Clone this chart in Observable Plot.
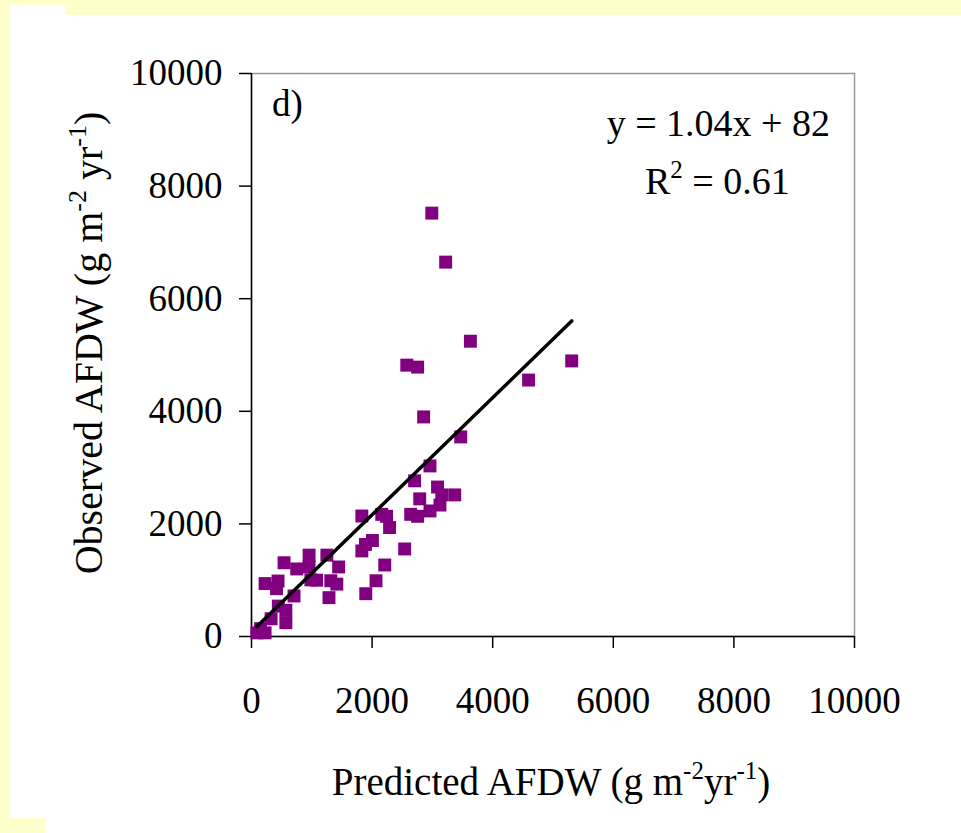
<!DOCTYPE html>
<html><head><meta charset="utf-8">
<style>
body{margin:0;background:#fff;}
#wrap{position:relative;width:961px;height:833px;overflow:hidden;background:#fff;}
.yb{position:absolute;background:#FFFFCC;}
#chart{position:absolute;left:0;top:0;}
</style>
<script src="https://cdn.jsdelivr.net/npm/d3@7"></script>
<script src="https://cdn.jsdelivr.net/npm/@observablehq/plot@0.6"></script>
</head><body>
<div id="wrap">
  <div class="yb" style="left:0;top:0;width:961px;height:5px"></div>
  <div class="yb" style="left:65px;top:0;width:896px;height:15px"></div>
  <div class="yb" style="left:0;top:0;width:10px;height:833px"></div>
  <div class="yb" style="left:0;top:818px;width:45px;height:15px"></div>
  <div id="chart"></div>
</div>
<script>
// Data
const predicted = [2990,3220,3630,2575,2755,5310,4595,2855,3470,2960,2705,3085,3370,3155,3125,2790,2960,2640,2755,1830,2160,2240,2290,1890,2005,1830,2540,1250,1445,2210,2065,1895,540,750,955,955,225,440,415,985,1080,1315,1415,1285,705,445,570,570,325,90,225,150];
const observed  = [7520,6650,5245,4820,4785,4895,4555,3900,3545,3030,2765,2655,2515,2515,2335,2445,2230,2170,2135,2140,2170,2135,1935,1635,1705,1520,1555,1445,1235,1270,990,760,1310,1200,1445,1235,940,985,850,1005,1000,990,930,690,720,540,465,245,315,65,65,140];
const xTicks = [0,2000,4000,6000,8000,10000];
const yTicks = [0,2000,4000,6000,8000,10000];
const slope = 1.04, intercept = 82;
const panelLabel = "d)";
const eqText = "y = 1.04x + 82";
const r2Value = "0.61";

const points = predicted.map((p,i)=>({p, o: observed[i]}));
const ext = d3.extent(predicted);
const trend = ext.map(p=>({p, o: slope*p + intercept}));

const FONT = "'Liberation Serif','Times New Roman',serif";
const chart = Plot.plot({
  width: 961, height: 833,
  marginLeft: 251, marginRight: 107, marginTop: 73, marginBottom: 197,
  style: {fontFamily: FONT, fontSize: "37px", color: "#000", background: "transparent"},
  x: {domain: [0,10000]},
  y: {domain: [0,10000]},
  marks: [
    Plot.frame({stroke: "#999", strokeWidth: 1.5}),
    Plot.axisX({ticks: xTicks, tickSize: 12, tickPadding: 38, tickFormat: d=>String(d), label: null, strokeWidth: 1.5}),
    Plot.axisY({ticks: yTicks, tickSize: 12, tickPadding: 17, tickFormat: d=>String(d), label: null, strokeWidth: 1.5}),
    Plot.ruleX([0], {stroke: "#000", strokeWidth: 1.5}),
    Plot.ruleY([0], {stroke: "#000", strokeWidth: 1.5}),
    Plot.dot(points, {x: "p", y: "o", symbol: "square", r: 7.3, fill: "#800080", stroke: "none"}),
    Plot.line(trend, {x: "p", y: "o", stroke: "#000", strokeWidth: 3.5, strokeLinecap: "round"})
  ]
});
document.getElementById("chart").appendChild(chart);

const svg = d3.select(chart);
const g = svg.append("g").attr("font-family", FONT).attr("font-size", 39).attr("fill", "#000").attr("text-anchor", "start");

function unitTspans(t, spaceBetween, sup, shift){
  t.append("tspan").text("(g m");
  t.append("tspan").attr("font-size", sup).attr("dy", -shift).text("-2");
  t.append("tspan").attr("dy", shift).text(spaceBetween ? " yr" : "yr");
  t.append("tspan").attr("font-size", sup).attr("dy", -shift).text("-1");
  t.append("tspan").attr("dy", shift).text(")");
}
// x title
const xt = g.append("text").attr("x", 551).attr("y", 795).attr("text-anchor", "middle");
xt.append("tspan").text("Predicted AFDW ");
unitTspans(xt, false, 25, 16);
// y title
const yt = g.append("text").attr("transform", "translate(102,343) rotate(-90)").attr("text-anchor", "middle").attr("font-size", 40);
yt.append("tspan").text("Observed AFDW ");
unitTspans(yt, true, 26, 16);
// panel label
g.append("text").attr("x", 272).attr("y", 116).attr("font-size", 37).text(panelLabel);
// equation
g.append("text").attr("x", 830).attr("y", 136).attr("font-size", 38).attr("text-anchor", "end").text(eqText);
const r2 = g.append("text").attr("x", 645).attr("y", 194).attr("font-size", 38);
r2.append("tspan").text("R");
r2.append("tspan").attr("font-size", 25).attr("dy", -16).text("2");
r2.append("tspan").attr("dy", 16).text(" = " + r2Value);
</script>
</body></html>
